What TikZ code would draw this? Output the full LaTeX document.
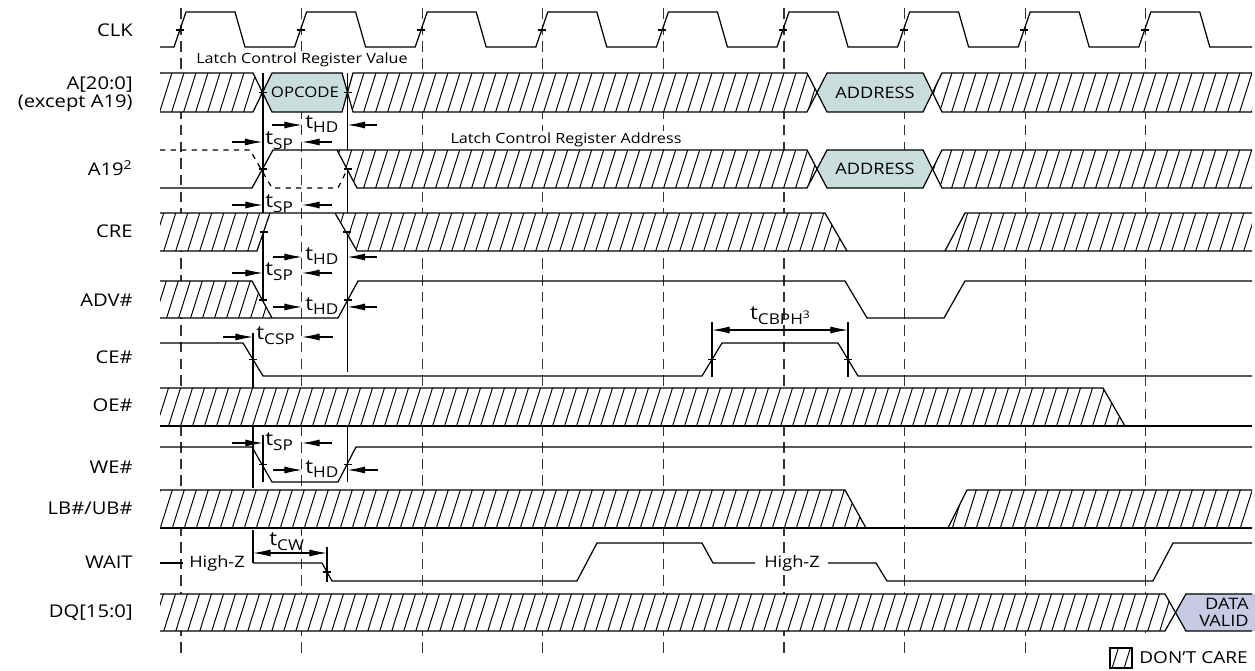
\documentclass[tikz,border=0pt]{standalone}
\usepackage{fontspec}
\setmainfont[FakeStretch=1.15]{Open Sans}
\usetikzlibrary{arrows.meta}
\definecolor{opfill}{RGB}{201,221,221}
\definecolor{validfill}{RGB}{200,202,228}
\newcommand{\tsub}[1]{{\fontsize{11}{11}\selectfont t}\raisebox{-0.5ex}{\fontsize{8.5}{8.5}\selectfont #1}}
\newcommand{\xtick}[2]{\draw[wave] (#1,#2) ++(-4,0) -- ++(8,0);}
% don't care area: white ground, then slanted lines clipped to the band
\newcommand{\dcband}[1]{%
	\begin{scope}
		\clip #1;
		\fill[white] #1;
		\foreach \h in {-230,-218,...,1260}{\draw[hatch] (\h,700) -- (\h+221,0);}
	\end{scope}}
\begin{document}
\begin{tikzpicture}[x=0.02cm, y=-0.02cm,
	wave/.style={line width=0.7pt},
	hatch/.style={line width=0.55pt},
	clkgrid/.style={black!80, line width=0.65pt, dash pattern=on 6pt off 3.5pt},
	bus/.style={fill=opfill},
	tarr/.style={-{Latex[length=10pt,width=4pt]}, line width=0.6pt},
	darr/.style={{Latex[length=10pt,width=4pt]}-{Latex[length=10pt,width=4pt]}, line width=0.6pt},
	lbl/.style={anchor=east, inner sep=0pt, align=right, font=\fontsize{10}{10.2}\selectfont},
	txtnote/.style={fill=white, inner sep=1pt, font=\fontsize{8}{10}\selectfont},
	tlbl/.style={anchor=west, inner sep=0pt}]
	\useasboundingbox (0,0) rectangle (1255,671);

	%clock edges
	\foreach \k [evaluate=\k as \xk using 181+120.6*\k] in {0,...,7}{
		\draw[clkgrid] (\xk,8) -- (\xk,653);
	}
	\draw[clkgrid] (1145.8,8) -- (1145.8,633);

	%reference lines
	\draw[wave] (263,73) -- (263,318);
	\draw[wave] (263,435) -- (263,482);
	\draw[wave] (347.5,73) -- (347.5,372);
	\draw[wave] (347.5,426) -- (347.5,482);
	\draw[wave] (253,333) -- (253,488);
	\draw[wave] (253,530) -- (253,563);
	\draw[wave] (712,322) -- (712,377);
	\draw[wave] (848,322) -- (848,377);
	\draw[wave] (327,547) -- (327,582);

	%signal names
	\node (clk) at (133,30) [lbl]{CLK};
	\node (adr) at (133,94) [lbl]{A[20:0]\\(except A19)};
	\node (a19) at (133,168) [lbl]{A19\textsuperscript{2}};
	\node (cre) at (133,231) [lbl]{CRE};
	\node (adv) at (133,300) [lbl]{ADV\#};
	\node (ce) at (133,357) [lbl]{CE\#};
	\node (oe) at (133,405) [lbl]{OE\#};
	\node (we) at (133,467) [lbl]{WE\#};
	\node (lbub) at (133,508) [lbl]{LB\#/UB\#};
	\node (wait) at (133,562) [lbl]{WAIT};
	\node (dq) at (133,613) [lbl]{DQ[15:0]};

	%CLK
	\draw[wave] (160,47) \foreach \k [evaluate=\k as \xk using 181+120.6*\k] in {0,...,8}{
		-- (\xk-7,47) -- (\xk+5,12) -- (\xk+54,12) -- (\xk+64,47)} -- (1252,47);
	\foreach \k [evaluate=\k as \xk using 180+120.6*\k] in {0,...,8}{
		\xtick{\xk}{30}
	}

	%A[20:0]
	\dcband{(160,73) -- (253,73) -- (262.5,92.5) -- (253,112) -- (160,112) -- cycle}
	\fill[bus] (262.5,92.5) -- (272,73) -- (342,73) -- (347.5,92.5) -- (342,112) -- (272,112) -- cycle;
	\dcband{(347.5,92.5) -- (353,73) -- (807,73) -- (817,92.5) -- (807,112) -- (353,112) -- cycle}
	\fill[bus] (817,92.5) -- (827,73) -- (923,73) -- (932.5,92.5) -- (923,112) -- (827,112) -- cycle;
	\dcband{(932.5,92.5) -- (942,73) -- (1252,73) -- (1252,112) -- (942,112) -- cycle}
	\draw[wave] (160,73) -- (253,73) -- (272,112) -- (342,112) -- (353,73) -- (807,73) -- (827,112) -- (923,112) -- (942,73) -- (1252,73);
	\draw[wave] (160,112) -- (253,112) -- (272,73) -- (342,73) -- (353,112) -- (807,112) -- (827,73) -- (923,73) -- (942,112) -- (1252,112);
	\node (opc) at (305,92.5) [font=\fontsize{8.3}{9}\selectfont, inner sep=0pt]{OPCODE};
	\node (adr1) at (875,92.5) [font=\fontsize{9}{9}\selectfont, inner sep=0pt]{ADDRESS};
	\xtick{262.5}{92.5}
	\xtick{347.5}{92.5}
	\node (lcrv) at (302,60) [txtnote]{Latch Control Register Value};

	%A19
	\dcband{(337,150) -- (807,150) -- (817,169) -- (807,188) -- (357,188) -- cycle}
	\fill[bus] (817,169) -- (827,150) -- (923,150) -- (932.5,169) -- (923,188) -- (827,188) -- cycle;
	\dcband{(932.5,169) -- (942,150) -- (1252,150) -- (1252,188) -- (942,188) -- cycle}
	\draw[wave] (160,188) -- (252,188) -- (273,150) -- (807,150) -- (827,188) -- (923,188) -- (942,150) -- (1252,150);
	\draw[wave] (337,150) -- (357,188) -- (807,188) -- (827,150) -- (923,150) -- (942,188) -- (1252,188);
	\draw[wave, dashed] (160,150) -- (250,150) -- (272,188) -- (338,188) -- (347.5,169);
	\node (adr2) at (875,169) [font=\fontsize{9}{9}\selectfont, inner sep=0pt]{ADDRESS};
	\xtick{262.5}{169}
	\xtick{347.5}{169}
	\node (lcra) at (566,140) [txtnote]{Latch Control Register Address};

	%CRE
	\dcband{(160,213) -- (270,213) -- (257,251) -- (160,251) -- cycle}
	\dcband{(335,213) -- (825,213) -- (847,251) -- (357,251) -- cycle}
	\dcband{(945,251) -- (965,213) -- (1252,213) -- (1252,251) -- cycle}
	\draw[wave] (160,213) -- (825,213) -- (847,251);
	\draw[wave] (160,251) -- (257,251) -- (270,213);
	\draw[wave] (335,213) -- (357,251) -- (1252,251);
	\draw[wave] (945,251) -- (965,213) -- (1252,213);
	\xtick{263.5}{232}
	\xtick{346.5}{232}

	%ADV#
	\dcband{(160,281) -- (252,281) -- (272,318) -- (160,318) -- cycle}
	\draw[wave] (160,281) -- (252,281) -- (272,318);
	\draw[wave] (160,318) -- (338,318) -- (358,281) -- (845,281) -- (867,318) -- (944,318) -- (965,281) -- (1252,281);
	\xtick{262.5}{300}
	\xtick{348}{300}

	%CE#
	\draw[wave] (160,343) -- (243,343) -- (263,376) -- (702,376) -- (722,343) -- (838,343) -- (858,376) -- (1252,376);
	\xtick{253}{359.5}
	\xtick{712}{359.5}
	\xtick{848}{359.5}

	%OE#
	\dcband{(160,388) -- (1103,388) -- (1125,426) -- (160,426) -- cycle}
	\draw[wave] (160,388) -- (1103,388) -- (1125,426);
	\draw[wave] (160,426) -- (1252,426);

	%WE#
	\draw[wave] (160,447) -- (252,447) -- (272,482) -- (338,482) -- (356,447) -- (1252,447);
	\xtick{262.5}{464.5}
	\xtick{347.5}{464.5}

	%LB#/UB#
	\dcband{(160,490) -- (845,490) -- (866,528) -- (160,528) -- cycle}
	\dcband{(948,528) -- (967,490) -- (1252,490) -- (1252,528) -- cycle}
	\draw[wave] (160,490) -- (845,490) -- (866,528);
	\draw[wave] (160,528) -- (1252,528);
	\draw[wave] (948,528) -- (967,490) -- (1252,490);

	%WAIT
	\node (hz1) at (217,563) [fill=white, inner sep=1pt, font=\fontsize{9}{9}\selectfont]{High-Z};
	\node (hz2) at (792,563) [fill=white, inner sep=1pt, font=\fontsize{9}{9}\selectfont]{High-Z};
	\draw[wave] (160,563) -- (183,563);
	\draw[wave] (253,563) -- (322,563) -- (332,581) -- (577,581) -- (597,543) -- (702,543) -- (713,563) -- (755,563);
	\draw[wave] (828,563) -- (876,563) -- (887,581) -- (1153,581) -- (1173,543) -- (1252,543);
	\xtick{327}{572}

	%DQ[15:0]
	\dcband{(160,594) -- (1165,594) -- (1175.5,612.5) -- (1165,631) -- (160,631) -- cycle}
	\fill[validfill] (1175.5,612.5) -- (1186,594) -- (1256,594) -- (1256,631) -- (1186,631) -- cycle;
	\draw[wave] (160,594) -- (1165,594) -- (1186,631) -- (1252,631);
	\draw[wave] (160,631) -- (1165,631) -- (1186,594) -- (1252,594);
	\node (valid) at (1249,612.5) [anchor=east, align=right, inner sep=0pt, font=\fontsize{9}{9.7}\selectfont]{DATA\\VALID};

	%timing
	\draw[tarr] (272,125) -- (302,125);
	\draw[tarr] (377,125) -- (347.5,125);
	\node (thd1) at (305,124) [tlbl]{\tsub{HD}};
	\draw[tarr] (232,142) -- (262.5,142);
	\draw[tarr] (332,142) -- (302,142);
	\node (tsp1) at (265,141) [tlbl]{\tsub{SP}};
	\draw[tarr] (232,205) -- (263,205);
	\draw[tarr] (332,205) -- (302,205);
	\node (tsp2) at (265,204) [tlbl]{\tsub{SP}};
	\draw[tarr] (273,257) -- (302,257);
	\draw[tarr] (377,257) -- (347.5,257);
	\node (thd2) at (305,256) [tlbl]{\tsub{HD}};
	\draw[tarr] (232,273) -- (263,273);
	\draw[tarr] (332,273) -- (302,273);
	\node (tsp3) at (265,272) [tlbl]{\tsub{SP}};
	\draw[tarr] (273,307) -- (302,307);
	\draw[tarr] (377,307) -- (347.5,307);
	\node (thd3) at (305,306) [tlbl]{\tsub{HD}};
	\draw[tarr] (223,337) -- (253,337);
	\draw[tarr] (333,337) -- (302,337);
	\node (tcsp) at (256,336) [tlbl]{\tsub{CSP}};
	\draw[darr] (712,330) -- (848,330);
	\node (tcbph) at (780,316) [inner sep=0pt]{\tsub{CBPH}\raisebox{0.2ex}{\fontsize{6}{6}\selectfont 3}};
	\draw[tarr] (232,443) -- (263,443);
	\draw[tarr] (332,443) -- (302,443);
	\node (tsp4) at (265,442) [tlbl]{\tsub{SP}};
	\draw[tarr] (273,470) -- (302,470);
	\draw[tarr] (378,470) -- (347.5,470);
	\node (thd4) at (305,469) [tlbl]{\tsub{HD}};
	\draw[darr] (253,553) -- (327,553);
	\node (tcw) at (269,542) [tlbl]{\tsub{CW}};

	%legend
	\dcband{(1110,648) rectangle (1132,668)}
	\draw[wave] (1110,648) rectangle (1132,668);
	\node (dcare) at (1139,658) [anchor=west, inner sep=0pt, font=\fontsize{9.4}{9.4}\selectfont]{DON’T CARE};
\end{tikzpicture}
\end{document}
